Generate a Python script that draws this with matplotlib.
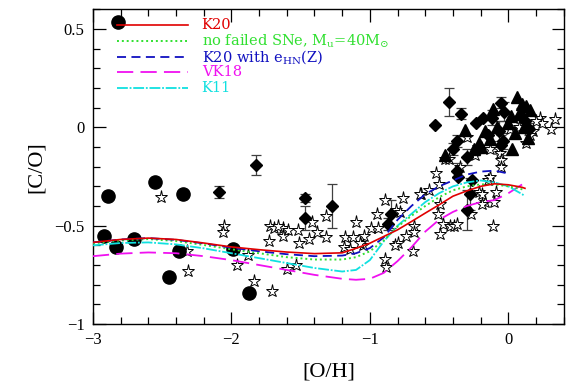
import numpy as np
import matplotlib
matplotlib.use("Agg")
import matplotlib.pyplot as plt
from matplotlib.ticker import MultipleLocator

plt.rcParams['font.family'] = ['Liberation Serif', 'DejaVu Serif']
plt.rcParams['mathtext.fontset'] = 'dejavuserif'

# --- observations ---
circ_x = [-2.82, -2.89, -2.55, -2.35, -2.92, -2.83, -2.70, -2.38, -2.45, -1.99, -1.87]
circ_y = [0.536, -0.35, -0.28, -0.34, -0.55, -0.61, -0.57, -0.63, -0.76, -0.62, -0.84]

dia_x = [-2.09, -1.82, -1.47, -1.47, -1.27, -0.85, -0.87, -0.43, -0.34, -0.53, -0.37,
         -0.40, -0.30, -0.37, -0.28, -0.30, -0.05, -0.03, -0.23, -0.18, -0.12, -0.07,
         -0.04, -0.05, -0.36, -0.26, 0.09, 0.12, 0.15, -0.15]
dia_y = [-0.33, -0.19, -0.36, -0.46, -0.40, -0.44, -0.49, 0.128, 0.07, 0.01, -0.07,
         -0.11, -0.15, -0.22, -0.34, -0.42, 0.126, 0.08, 0.02, 0.047, 0.05, -0.02,
         -0.07, -0.09, -0.25, -0.27, 0.06, 0.03, -0.01, -0.04]
dia_err = [0.03, 0.05, 0.02, 0.06, 0.11, 0.07, 0.03, 0.07, 0.03, 0.0, 0.03,
           0.03, 0.04, 0.04, 0.08, 0.10, 0.03, 0.05, 0.0, 0.0, 0.04, 0.05,
           0.04, 0.05, 0.0, 0.0, 0.04, 0.0, 0.03, 0.0]

tri_x = [-0.31, -0.46, -0.25, 0.06, -0.11, 0.13, 0.16, 0.00, -0.21, 0.03, -0.17,
         0.08, 0.11, 0.14, -0.13, 0.02, -0.08, 0.05, -0.20, 0.10]
tri_y = [-0.016, -0.14, -0.11, 0.154, 0.093, 0.11, 0.09, 0.02, -0.08, -0.11, -0.02,
         0.07, 0.004, -0.055, -0.06, 0.06, 0.0, -0.03, -0.10, 0.12]

star_x = [-2.51, -2.05, -2.06, -2.31, -1.96, -1.88, -1.84, -2.32, -1.71, -1.60, -1.53,
          -1.72, -1.69, -1.63, -1.63, -1.73, -1.52, -1.51, -1.44, -1.38, -1.32, -1.32,
          -1.42, -1.66, -1.59,
          -1.10, -1.18, -1.12, -1.04, -1.19, -1.14, -1.05, -0.99, -0.94, -0.95, -0.89,
          -0.81, -0.80, -0.89, -0.88, -1.07,
          -0.76, -0.78, -0.82, -0.69, -0.74, -0.68, -0.68, -0.63, -0.57, -0.50, -0.49,
          -0.51, -0.47, -0.49, -0.42, -0.39, -0.37, -0.52, -0.46, -0.64, -0.43,
          -0.21, -0.17, -0.15, -0.09, -0.10, -0.11, -0.19, -0.19, -0.27, -0.21, -0.22,
          -0.13, -0.07, -0.06, -0.05, -0.05, -0.13, -0.24, 0.01, 0.08, 0.13, 0.18,
          0.23, 0.24, 0.31, 0.34, 0.20, 0.16, -0.30, -0.35]
star_y = [-0.355, -0.50, -0.53, -0.73, -0.70, -0.65, -0.78, -0.63, -0.83, -0.72, -0.70,
          -0.50, -0.51, -0.51, -0.55, -0.58, -0.52, -0.59, -0.57, -0.53, -0.56, -0.45,
          -0.48, -0.50, -0.52,
          -0.48, -0.56, -0.56, -0.55, -0.61, -0.62, -0.60, -0.51, -0.51, -0.44, -0.37,
          -0.42, -0.59, -0.67, -0.71, -0.59,
          -0.36, -0.43, -0.60, -0.63, -0.55, -0.50, -0.53, -0.34, -0.32, -0.29, -0.39,
          -0.44, -0.49, -0.54, -0.50, -0.50, -0.49, -0.23, -0.16, -0.34, -0.16,
          -0.33, -0.38, -0.27, -0.33, -0.38, -0.50, -0.39, -0.34, -0.44, -0.10, -0.10,
          -0.11, -0.11, -0.13, -0.165, -0.20, -0.25, -0.14, -0.01, 0.0, -0.08, -0.02,
          0.05, 0.02, -0.01, 0.04, 0.03, -0.04, -0.05, -0.20]

# --- models ---
mod_x = [-3.0, -2.8, -2.6, -2.4, -2.2, -2.0, -1.8, -1.6, -1.4, -1.2, -1.1, -1.0,
         -0.9, -0.8, -0.7, -0.6, -0.5, -0.4, -0.3, -0.2, -0.1, 0.0, 0.1, 0.12]
k20 = [-0.585, -0.570, -0.563, -0.570, -0.588, -0.608, -0.622, -0.634, -0.642, -0.638,
       -0.615, -0.589, -0.555, -0.521, -0.479, -0.436, -0.394, -0.350, -0.323, -0.300,
       -0.287, -0.292, -0.305, -0.31]
nofail = [-0.59, -0.575, -0.568, -0.578, -0.598, -0.62, -0.64, -0.66, -0.672, -0.672,
          -0.66, -0.63, -0.575, -0.505, -0.45, -0.40, -0.355, -0.32, -0.30, -0.29,
          -0.29, -0.30, -0.315, -0.32]
k20_ehn_x = [-3.0, -2.8, -2.6, -2.4, -2.2, -2.0, -1.8, -1.6, -1.4, -1.2, -1.1, -1.0,
             -0.9, -0.8, -0.7, -0.6, -0.5, -0.4, -0.3, -0.2, -0.1, 0.0, 0.01]
k20_ehn = [-0.585, -0.570, -0.563, -0.572, -0.590, -0.612, -0.630, -0.645, -0.655, -0.652,
           -0.64, -0.614, -0.56, -0.47, -0.40, -0.34, -0.30, -0.27, -0.24, -0.225,
           -0.22, -0.235, -0.237]
vk18 = [-0.655, -0.642, -0.636, -0.640, -0.655, -0.675, -0.70, -0.725, -0.75, -0.770,
        -0.775, -0.77, -0.74, -0.68, -0.61, -0.53, -0.47, -0.43, -0.40, -0.38,
        -0.37, -0.335, -0.29, -0.275]
k11 = [-0.60, -0.588, -0.585, -0.595, -0.615, -0.64, -0.665, -0.69, -0.715, -0.733,
       -0.725, -0.675, -0.58, -0.50, -0.44, -0.38, -0.335, -0.30, -0.28, -0.27,
       -0.28, -0.30, -0.34, -0.35]

fig = plt.figure(figsize=(5.7, 3.89), dpi=100)
ax = fig.add_axes([0.163, 0.167, 0.826, 0.809])

ax.errorbar(dia_x, dia_y, yerr=dia_err, fmt='none', ecolor='0.25', elinewidth=0.9,
            capsize=3.5, capthick=0.9, zorder=2)
ax.plot(star_x, star_y, ls='none', marker='*', ms=9.5, mfc='white', mec='black',
        mew=0.7, zorder=3)
ax.plot(circ_x, circ_y, ls='none', marker='o', ms=9.5, color='black', zorder=4)
ax.plot(tri_x, tri_y, ls='none', marker='^', ms=8, color='black', zorder=4)
ax.plot(dia_x, dia_y, ls='none', marker='D', ms=6, color='black', zorder=4)

styles = [
    dict(color='#e00000', ls='-', lw=1.2),
    dict(color='#30e030', ls=(0, (1, 1.5)), lw=1.4),
    dict(color='#1010c0', ls=(0, (5, 3)), lw=1.3),
    dict(color='#f010f0', ls=(0, (9, 4)), lw=1.3),
    dict(color='#10e0e0', ls=(0, (6, 1, 1, 1)), lw=1.3),
]
series = [(mod_x, k20), (mod_x, nofail), (k20_ehn_x, k20_ehn), (mod_x, vk18), (mod_x, k11)]
order = [3, 4, 1, 2, 0]
for i in order:
    ax.plot(series[i][0], series[i][1], zorder=5, **styles[i])

labels = ['K20', r'no failed SNe, M$_{\rm u}$=40M$_{\odot}$', r'K20 with e$_{\rm HN}$(Z)',
          'VK18', 'K11']
rows = [0.951, 0.900, 0.849, 0.801, 0.750]
for st, lab, yy in zip(styles, labels, rows):
    ax.plot([0.051, 0.202], [yy, yy], transform=ax.transAxes, zorder=6, **st)
    ax.text(0.231, yy, lab, transform=ax.transAxes, color=st['color'], fontsize=10.5,
            family='DejaVu Serif', va='center', ha='left', zorder=6)

ax.set_xlim(-3, 0.4)
ax.set_ylim(-1, 0.6)
ax.xaxis.set_major_locator(MultipleLocator(1))
ax.xaxis.set_minor_locator(MultipleLocator(0.2))
ax.yaxis.set_major_locator(MultipleLocator(0.5))
ax.yaxis.set_minor_locator(MultipleLocator(0.1))
ax.tick_params(which='both', direction='in', top=True, right=True, labelsize=12)
ax.tick_params(which='major', length=9, width=0.9, pad=6)
ax.tick_params(which='minor', length=5, width=0.9)
fmt = plt.FuncFormatter(lambda v, p: ('%g' % v).replace('-', '\u2212') if v != 0 else '0')
ax.xaxis.set_major_formatter(fmt)
ax.yaxis.set_major_formatter(fmt)
for sp in ax.spines.values():
    sp.set_linewidth(1.0)

ax.set_xlabel('[O/H]', fontsize=16, labelpad=10)
ax.set_ylabel('[C/O]', fontsize=16, labelpad=6)

fig.savefig('out.png', dpi=100)
